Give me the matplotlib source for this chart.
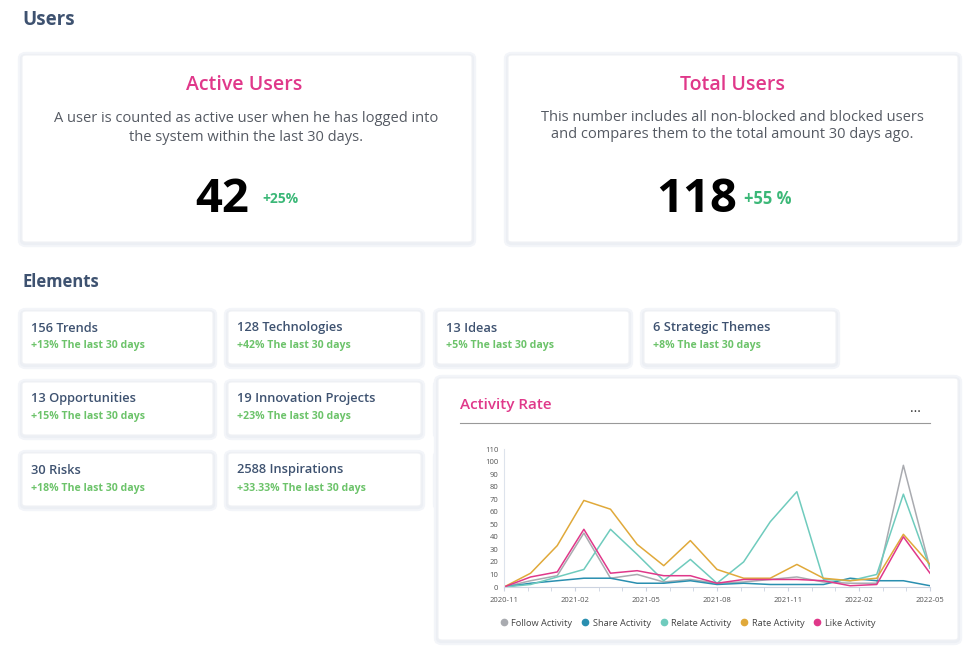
import matplotlib
matplotlib.use("Agg")
import matplotlib.pyplot as plt
from matplotlib.patches import FancyBboxPatch

W, H = 980, 655
# ---- data ----
active_users = "42"; active_change = "+25%"
total_users = "118"; total_change = "+55 %"
elements = ["156 Trends", "128 Technologies", "13 Ideas", "6 Strategic Themes",
            "13 Opportunities", "19 Innovation Projects", "30 Risks", "2588 Inspirations"]
element_changes = ["+13%", "+42%", "+5%", "+8%", "+15%", "+23%", "+18%", "+33.33%"]
series_names = ["Follow Activity", "Share Activity", "Relate Activity", "Rate Activity", "Like Activity"]
follow = [0, 5, 9, 43, 7, 10, 4, 6, 3, 4, 6, 8, 4, 3, 3, 97, 15]
share = [0, 3, 5, 7, 7, 3, 3, 5, 2, 3, 2, 2, 2, 7, 5, 5, 1]
relate = [0, 2, 8, 14, 46, 26, 5, 22, 3, 20, 52, 76, 6, 5, 10, 74, 15]
rate = [0, 11, 33, 69, 62, 34, 17, 37, 14, 7, 7, 18, 7, 5, 7, 42, 18]
like = [0, 8, 12, 46, 11, 13, 9, 9, 3, 6, 6, 6, 5, 1, 2, 40, 11]
tick_labels = ["2020-11", "2021-02", "2021-05", "2021-08", "2021-11", "2022-02", "2022-05"]
yticks = list(range(0, 111, 10))
colors = ["#a9abb0", "#2a8fb0", "#6fcbbd", "#e0a93a", "#e0388a"]

plt.rcParams["font.family"] = "Open Sans"
fig = plt.figure(figsize=(W / 100, H / 100), dpi=100)
fig.patch.set_facecolor("white")

def fx(x): return x / W
def fy(y): return 1 - y / H

def card(x0, y0, x1, y1, z=1):
    for k, (col, lw) in enumerate([("#f3f5f9", 6), ("#eceff4", 3)]):
        sh = FancyBboxPatch((fx(x0), fy(y1 + 1)), fx(x1 - x0), (y1 - y0) / H,
                            boxstyle="round,pad=0,rounding_size=0.004", transform=fig.transFigure,
                            facecolor="none", edgecolor=col, lw=lw, zorder=z)
        fig.patches.append(sh)
    p = FancyBboxPatch((fx(x0), fy(y1)), fx(x1 - x0), (y1 - y0) / H,
                       boxstyle="round,pad=0,rounding_size=0.004", transform=fig.transFigure,
                       facecolor="white", edgecolor="#f0f2f5", lw=0.8, zorder=z + 0.1)
    fig.patches.append(p)

def txt(x, y, s, **kw):
    kw.setdefault("va", "center")
    fig.text(fx(x), fy(y), s, **kw)

dark = "#3e5270"; pink = "#e0388a"; green = "#3cb878"; lgreen = "#6cc36a"

txt(22, 20, "Users", fontsize=13.5, color=dark, fontweight="bold")
txt(22, 282, "Elements", fontsize=12, color=dark, fontweight="bold")

card(22, 55, 472, 242)
card(508, 55, 958, 242)
txt(244, 85, "Active Users", fontsize=14, color=pink, ha="center", fontweight="semibold", zorder=5)
txt(246, 128, "A user is counted as active user when he has logged into\nthe system within the last 30 days.",
    fontsize=10.5, color="#555a63", ha="center", linespacing=1.4, zorder=5)
txt(222, 199, active_users, fontsize=34, fontweight="bold", color="black", ha="center", zorder=5)
txt(262, 199, active_change, fontsize=10, color=green, fontweight="bold", zorder=5)
txt(732, 85, "Total Users", fontsize=14, color=pink, ha="center", fontweight="semibold", zorder=5)
txt(732, 126, "This number includes all non-blocked and blocked users\nand compares them to the total amount 30 days ago.",
    fontsize=10.5, color="#555a63", ha="center", linespacing=1.1, zorder=5)
txt(697, 199, total_users, fontsize=34, fontweight="bold", color="black", ha="center", zorder=5)
txt(744, 199, total_change, fontsize=12, color=green, fontweight="bold", zorder=5)

cols = [(22, 213), (228, 421), (437, 629), (644, 836)]
rows = [(311, 364), (382, 435), (453, 506)]
positions = [(0, 0), (0, 1), (0, 2), (0, 3), (1, 0), (1, 1), (2, 0), (2, 1)]
for r in (1, 2):
    card(cols[2][0], rows[r][0], cols[2][1], rows[r][1])
for name, ch, (r, c) in zip(elements, element_changes, positions):
    x0, x1 = cols[c]; y0, y1 = rows[r]
    card(x0, y0, x1, y1)
    txt(x0 + 9, y0 + 17, name, fontsize=9.3, color=dark, fontweight="semibold", zorder=5)
    txt(x0 + 9, y0 + 35, ch + " The last 30 days", fontsize=7.6, color=lgreen, fontweight="bold", zorder=5)

card(438, 378, 958, 640, z=3)
txt(460, 405, "Activity Rate", fontsize=11, color=pink, fontweight="semibold", zorder=6)
txt(915, 408, "...", fontsize=10, color="#333", ha="center", zorder=6)
fig.add_artist(plt.Line2D([fx(460), fx(930)], [fy(423), fy(423)], color="#999", lw=0.8, zorder=6))

ax = fig.add_axes([fx(504), fy(587), fx(930 - 504), (587 - 449) / H])
ax.set_zorder(7)
ax.patch.set_alpha(0)
xs = list(range(len(follow)))
for s, name, c in zip([follow, share, relate, rate, like], series_names, colors):
    ax.plot(xs, s, color=c, lw=1.1, label=name)
n = len(follow) - 1
ax.set_xlim(0, n)
ax.set_ylim(0, 110)
ax.set_yticks(yticks)
ax.set_xticks([i * 3 * n / 18 for i in range(7)])
ax.set_xticks([i * n / 18 for i in range(19)], minor=True)
ax.set_xticklabels(tick_labels)
ax.tick_params(labelsize=5.5, colors="#555", length=0, pad=4)
ax.tick_params(axis="x", which="both", length=3, color="#ccd3e0")
for sp in ["top", "right"]:
    ax.spines[sp].set_visible(False)
ax.spines["left"].set_color("#dde3ec")
ax.spines["bottom"].set_color("#ccd3e0")
leg = fig.legend(*ax.get_legend_handles_labels(), loc="center", bbox_to_anchor=(fx(688), fy(623)),
                 ncol=5, frameon=False, fontsize=6.7, handlelength=0.6, handletextpad=0.5, columnspacing=1.1,
                 labelcolor="#444")
for h in leg.legend_handles:
    h.set_marker("o"); h.set_linestyle(""); h.set_markersize(4.5)
leg.set_zorder(8)

fig.savefig("out.png", dpi=100, facecolor="white")
